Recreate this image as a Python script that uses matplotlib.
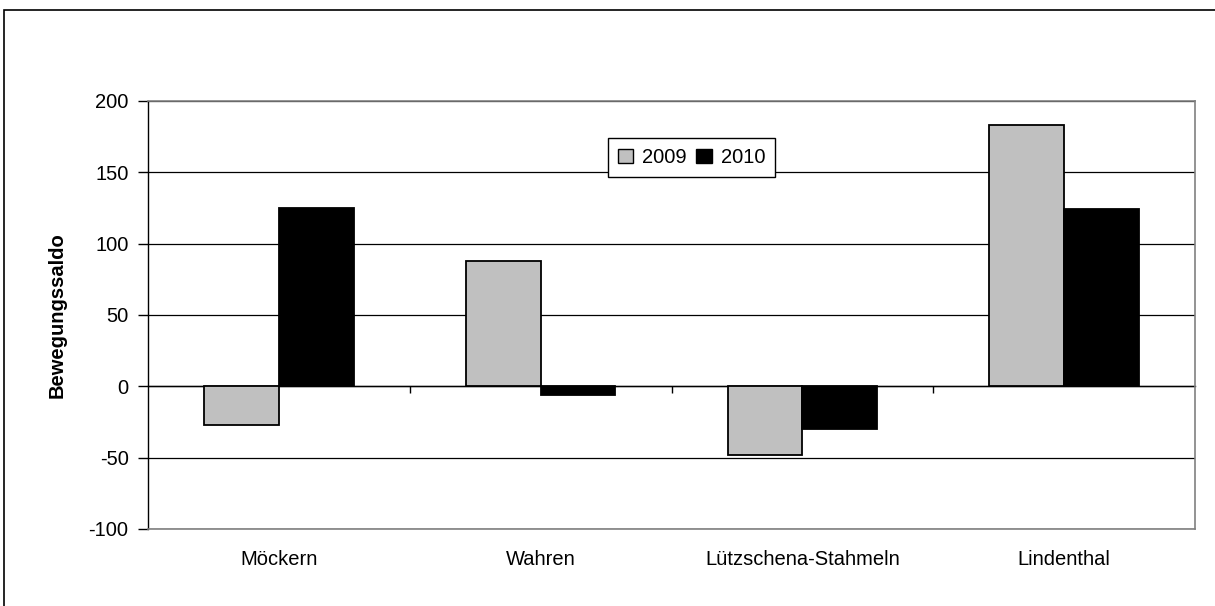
import numpy as np
import matplotlib
matplotlib.use('Agg')
import matplotlib.pyplot as plt
from matplotlib.patches import Patch, Rectangle

plt.rcParams['font.family'] = ['Liberation Sans', 'DejaVu Sans']
plt.rcParams['axes.unicode_minus'] = False

# Daten
orte = ['Möckern', 'Wahren', 'Lützschena-Stahmeln', 'Lindenthal']
saldo_2009 = [-27, 88, -48, 183]
saldo_2010 = [125, -6, -30, 124]
jahre = ['2009', '2010']
y_ticks = [-100, -50, 0, 50, 100, 150, 200]

FS = 14.5

fig = plt.figure(figsize=(12.15, 6.06), dpi=100)
# Rahmen um das Diagramm
fig.patches.append(Rectangle((4 / 1215, -0.1), 1.2, 1 - 10 / 606 + 0.1,
                             transform=fig.transFigure, fill=False,
                             edgecolor='black', lw=1.2))

ax = fig.add_axes([148 / 1215, 1 - 529 / 606, 1047 / 1215, 428 / 606])

x = np.arange(len(orte))
w = 0.286
ax.bar(x - w, saldo_2009, w, align='edge', color='#c0c0c0', edgecolor='black', lw=1.3, zorder=3)
ax.bar(x, saldo_2010, w, align='edge', color='black', edgecolor='black', lw=1.3, zorder=3)

ax.set_xlim(-0.5, len(orte) - 0.5)
ax.set_ylim(y_ticks[0], y_ticks[-1])
ax.set_yticks(y_ticks)
ax.set_yticklabels([str(v) for v in y_ticks], fontsize=FS)
ax.yaxis.grid(True, color='black', lw=0.9)
ax.set_axisbelow(True)
ax.tick_params(axis='y', direction='out', length=7, width=1, pad=7)

ax.set_xticks(x)
ax.set_xticklabels(orte, fontsize=FS)
ax.tick_params(axis='x', length=0, pad=15)

for s in ['top', 'right', 'bottom']:
    ax.spines[s].set_color('#808080')
    ax.spines[s].set_linewidth(1.2)
ax.spines['left'].set_color('black')
ax.spines['left'].set_linewidth(1)

# x-Achse bei 0 mit Teilstrichen zwischen den Kategorien
null_pos = (0 - y_ticks[0]) / (y_ticks[-1] - y_ticks[0])
sec = ax.secondary_xaxis(null_pos)
sec.set_xticks(x[:-1] + 0.5)
sec.set_xticklabels([])
sec.tick_params(direction='out', length=5, width=1, color='black')
sec.spines['bottom'].set_color('black')
sec.spines['bottom'].set_linewidth(1)

ax.set_ylabel('Bewegungssaldo', fontsize=FS, fontweight='bold', labelpad=16)

handles = [Patch(facecolor='#c0c0c0', edgecolor='black', lw=1),
           Patch(facecolor='black', edgecolor='black', lw=1)]
leg = ax.legend(handles, jahre, loc='upper center', bbox_to_anchor=(0.519, 0.937),
                ncol=2, fontsize=FS, frameon=True, fancybox=False, framealpha=1,
                edgecolor='black', handlelength=0.75, handleheight=0.65,
                handletextpad=0.45, columnspacing=0.5, borderpad=0.5)
leg.get_frame().set_linewidth(1)

fig.savefig('out.png', dpi=100)
